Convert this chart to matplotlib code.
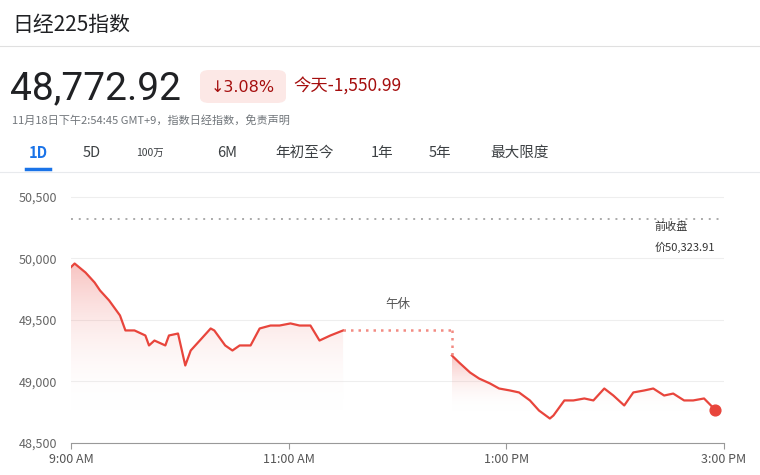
import matplotlib
matplotlib.use("Agg")
import matplotlib.pyplot as plt
import numpy as np
from matplotlib.patches import FancyBboxPatch
from matplotlib.colors import LinearSegmentedColormap

plt.rcParams['font.family'] = ['Noto Sans CJK SC', 'DejaVu Sans']

am_min = [0, 2, 8, 13, 16, 21, 27, 30, 35, 41, 43, 46, 52, 54, 59, 63, 66, 71, 77, 79, 85, 89, 93, 99, 104, 110, 115, 121, 126, 132, 137, 143, 150]
am_val = [49930, 49959, 49886, 49805, 49740, 49659, 49537, 49415, 49415, 49374, 49293, 49333, 49293, 49374, 49390, 49130, 49252, 49333, 49431, 49415, 49293, 49252, 49293, 49293, 49431, 49455, 49455, 49472, 49455, 49455, 49333, 49374, 49415]
pm_min = [210, 214, 220, 225, 231, 236, 242, 247, 253, 258, 264, 266, 272, 277, 283, 288, 294, 299, 305, 310, 316, 321, 327, 332, 338, 343, 349, 355]
pm_val = [49211, 49154, 49073, 49024, 48984, 48943, 48927, 48911, 48846, 48764, 48699, 48724, 48846, 48846, 48862, 48846, 48943, 48886, 48805, 48911, 48927, 48943, 48886, 48902, 48846, 48846, 48862, 48772]
prev_close = 50323.91
lunch_level = 49415
y_ticks = [48500, 49000, 49500, 50000, 50500]
y_labels = ["48,500", "49,000", "49,500", "50,000", "50,500"]
x_ticks = [0, 120, 240, 360]
x_labels = ["9:00 AM", "11:00 AM", "1:00 PM", "3:00 PM"]
tabs = ["1D", "5D", "100万", "6M", "年初至今", "1年", "5年", "最大限度"]
tab_x = [38, 92, 150, 227, 305, 382, 440, 520]

W, H = 760, 475
fig = plt.figure(figsize=(7.6, 4.75), dpi=100)
RED = "#e8453c"

def fx(x): return x / W
def fy(y): return 1 - y / H

ax = fig.add_axes([fx(71), fy(443), fx(724) - fx(71), fy(180) - fy(443)])
ylo, yhi = 48500, 50638

grad = np.linspace(0, 1, 256).reshape(-1, 1)
cmap = LinearSegmentedColormap.from_list("g", [(1, 1, 1, 0), (0.91, 0.27, 0.24, 0.32)])
for mins, vals in [(am_min, am_val), (pm_min, pm_val)]:
    poly = ax.fill_between(mins, vals, ylo, color="none")
    im = ax.imshow(grad, aspect="auto", cmap=cmap, origin="lower",
                   extent=[mins[0], mins[-1], 48750, max(vals)], zorder=1)
    im.set_clip_path(poly.get_paths()[0], transform=ax.transData)
    ax.plot(mins, vals, color=RED, lw=1.6, zorder=3)

ax.plot([150, 210], [lunch_level, lunch_level], color="#f28b82", lw=1.8, ls=(0, (1, 2)), zorder=3)
ax.plot([210, 210], [lunch_level, pm_val[0]], color="#f28b82", lw=1.8, ls=(0, (1, 2)), zorder=3)
ax.plot([0, 360], [prev_close, prev_close], color="#aaaaaa", lw=1.4, ls=(0, (1, 3)))
ax.scatter([pm_min[-1]], [pm_val[-1]], s=60, color=RED, zorder=4)
ax.set_ylim(ylo, yhi)
ax.set_xlim(0, 360)

ax.set_yticks(y_ticks)
ax.set_yticklabels(y_labels)
ax.set_xticks(x_ticks)
ax.set_xticklabels(x_labels)
ax.grid(axis="y", color="#eeeeee", lw=0.8)
ax.set_axisbelow(True)
for s in ["top", "right", "left"]:
    ax.spines[s].set_visible(False)
ax.spines["bottom"].set_color("#999999")
ax.tick_params(axis="y", length=0, pad=10, labelsize=9, labelcolor="#666666")
ax.tick_params(axis="x", length=4, color="#999999", labelsize=9, labelcolor="#555555")
ax.text(0.893, 0.81, "前收盘", transform=ax.transAxes, fontsize=8, color="#333333")
ax.text(0.893, 0.73, "价50,323.91", transform=ax.transAxes, fontsize=8, color="#333333")
ax.text(180, 49600, "午休", ha="center", fontsize=9, color="#555555")

fig.text(fx(12), fy(25), "日经225指数", fontsize=15, va="center", color="#202124")
fig.add_artist(plt.Line2D([fx(0), fx(760)], [fy(46), fy(46)], color="#e0e0e0", lw=0.8))
fig.text(fx(10), fy(89), "48,772.92", fontsize=28, va="center", color="#202124",
         family=["Roboto", "DejaVu Sans"])
fig.add_artist(FancyBboxPatch((fx(200), fy(103)), fx(86), fy(70) - fy(103),
                              boxstyle="round,pad=0,rounding_size=0.012",
                              fc="#fce8e6", ec="none", transform=fig.transFigure))
fig.text(fx(243), fy(87), "↓3.08%", fontsize=11.5, ha="center", va="center", color="#a50e0e",
         family=["DejaVu Sans"])
fig.text(fx(293), fy(87), "今天-1,550.99", fontsize=12.5, va="center", color="#a50e0e")
fig.text(fx(12), fy(120), "11月18日下午2:54:45 GMT+9，指数日经指数，免责声明", fontsize=8,
         va="center", color="#70757a")
for i, (t, x) in enumerate(zip(tabs, tab_x)):
    fig.text(fx(x), fy(153), t, fontsize=10.5 if t != "100万" else 7.5, ha="center", va="center",
             color="#1a73e8" if i == 0 else "#3c4043", fontweight="bold" if i == 0 else "normal")
fig.add_artist(plt.Line2D([fx(26), fx(50)], [fy(169), fy(169)], color="#1a73e8", lw=2.5))
fig.add_artist(plt.Line2D([fx(0), fx(760)], [fy(172), fy(172)], color="#e8eaed", lw=0.8))

fig.savefig("out.png", dpi=100)
